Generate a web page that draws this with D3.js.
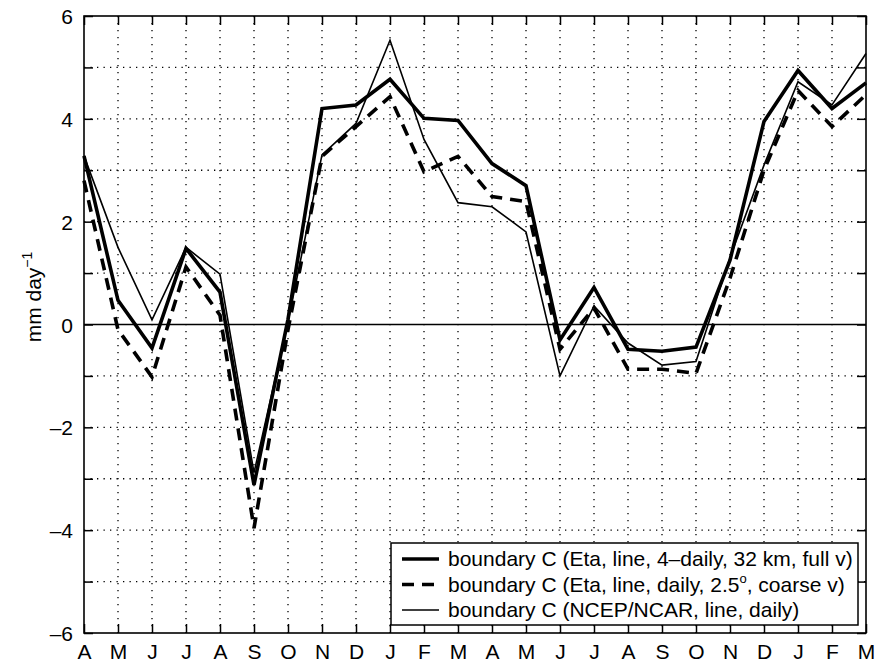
<!DOCTYPE html>
<html>
<head>
<meta charset="utf-8">
<script src="https://cdn.jsdelivr.net/npm/d3@7"></script>
<style>
  body { margin: 0; background: #fff; }
  text { font-family: "Liberation Sans", Arial, Helvetica, sans-serif; fill: #000; }
</style>
</head>
<body>
<script>
// month labels, Apr (year 1) .. Mar (year 3)
var months = ["A","M","J","J","A","S","O","N","D","J","F","M","A","M","J","J","A","S","O","N","D","J","F","M"];

// boundary C (Eta, line, 4-daily, 32 km, full v)
var etaFull = [3.28, 0.47, -0.46, 1.48, 0.63, -3.12, 0.1, 4.2, 4.27, 4.77, 4.01, 3.97, 3.13, 2.7,
               -0.3, 0.72, -0.48, -0.52, -0.44, 1.25, 3.95, 4.94, 4.2, 4.7];
// boundary C (Eta, line, daily, 2.5deg, coarse v)
var etaCoarse = [2.8, -0.1, -1.02, 1.12, 0.18, -3.96, -0.1, 3.27, 3.85, 4.43, 2.97, 3.27, 2.49, 2.39,
                 -0.48, 0.32, -0.87, -0.87, -0.95, 0.9, 3.0, 4.55, 3.85, 4.47];
// boundary C (NCEP/NCAR, line, daily)
var ncep = [3.28, 1.5, 0.09, 1.5, 0.98, -2.88, 0.05, 3.3, 3.91, 5.53, 3.6, 2.37, 2.29, 1.8,
            -1.0, 0.36, -0.36, -0.79, -0.72, 1.3, 3.1, 4.72, 4.27, 5.27];

var yTicks = d3.range(-6, 7, 1);
var yLabels = [-6, -4, -2, 0, 2, 4, 6];

var legendNames = [
  "boundary C (Eta, line, 4\u2013daily, 32 km, full v)",
  "boundary C (Eta, line, daily, 2.5",
  "boundary C (NCEP/NCAR, line, daily)"
];

(function() {
var W = 875, H = 660;
var pl = 84, pr = 866, pt = 16, pb = 633;

var svg = d3.select("body").append("svg")
    .attr("width", W)
    .attr("height", H);

var x = d3.scaleLinear().domain([0, months.length - 1]).range([pl, pr]);
var y = d3.scaleLinear().domain([-6, 6]).range([pb, pt]);

var idx = d3.range(months.length);

// dotted grid
svg.append("g").selectAll("line")
    .data(idx.slice(1, -1))
    .enter().append("line")
    .attr("x1", function(d) { return x(d); })
    .attr("x2", function(d) { return x(d); })
    .attr("y1", pt).attr("y2", pb)
    .attr("stroke", "#000").attr("stroke-width", 1.3)
    .attr("stroke-dasharray", "1.3,5.7");

svg.append("g").selectAll("line")
    .data(yTicks.filter(function(d) { return d > -6 && d < 6 && d != 0; }))
    .enter().append("line")
    .attr("x1", pl).attr("x2", pr)
    .attr("y1", function(d) { return y(d); })
    .attr("y2", function(d) { return y(d); })
    .attr("stroke", "#000").attr("stroke-width", 1.3)
    .attr("stroke-dasharray", "1.3,5.2");

// zero line
svg.append("line")
    .attr("x1", pl).attr("x2", pr)
    .attr("y1", y(0)).attr("y2", y(0))
    .attr("stroke", "#000").attr("stroke-width", 1.4);

// axes, ticks pointing inward on all four sides
var fmt = function(d) { return yLabels.indexOf(d) >= 0 ? String(d).replace("-", "\u2013") : ""; };

var yAxisL = svg.append("g").attr("transform", "translate(" + pl + ",0)")
    .call(d3.axisLeft(y).tickValues(yTicks).tickSizeInner(-9).tickSizeOuter(0).tickPadding(11).tickFormat(fmt));
var yAxisR = svg.append("g").attr("transform", "translate(" + pr + ",0)")
    .call(d3.axisRight(y).tickValues(yTicks).tickSizeInner(-9).tickSizeOuter(0).tickFormat(""));
var xAxisB = svg.append("g").attr("transform", "translate(0," + pb + ")")
    .call(d3.axisBottom(x).tickValues(idx).tickSizeInner(-9).tickSizeOuter(0).tickPadding(11)
      .tickFormat(function(d) { return months[d]; }));
var xAxisT = svg.append("g").attr("transform", "translate(0," + pt + ")")
    .call(d3.axisTop(x).tickValues(idx).tickSizeInner(-9).tickSizeOuter(0).tickFormat(""));

[yAxisL, yAxisR, xAxisB, xAxisT].forEach(function(a) {
  a.select(".domain").remove();
  a.selectAll(".tick line").attr("stroke", "#000").attr("stroke-width", 1.5);
});
yAxisL.selectAll("text").attr("font-size", "21px").attr("fill", "#000").attr("dy", "0.36em");
xAxisB.selectAll("text").attr("font-size", "21px").attr("fill", "#000");

// frame
svg.append("rect")
    .attr("x", pl).attr("y", pt)
    .attr("width", pr - pl).attr("height", pb - pt)
    .attr("fill", "none").attr("stroke", "#000").attr("stroke-width", 1.6);

// y label
svg.append("text")
    .attr("transform", "translate(41,297) rotate(-90)")
    .attr("text-anchor", "middle")
    .attr("font-size", "21px")
    .html("mm day<tspan dy='-9' font-size='14px'>\u22121</tspan>");

// series
var series = [
  { vals: etaFull, width: 3.6, dash: null },
  { vals: etaCoarse, width: 3.6, dash: "12,8" },
  { vals: ncep, width: 1.6, dash: null }
];

var line = d3.line()
    .x(function(d, i) { return x(i); })
    .y(function(d) { return y(d); });

svg.append("g").selectAll("path")
    .data(series.slice().reverse())
    .enter().append("path")
    .attr("d", function(s) { return line(s.vals); })
    .attr("fill", "none")
    .attr("stroke", "#000")
    .attr("stroke-width", function(s) { return s.width; })
    .attr("stroke-dasharray", function(s) { return s.dash; })
    .attr("stroke-linejoin", "miter");

// legend
var lg = svg.append("g");
lg.append("rect")
    .attr("x", 391).attr("y", 543)
    .attr("width", 467).attr("height", 82)
    .attr("fill", "#fff").attr("stroke", "#000").attr("stroke-width", 1.5);

var rowY = [559, 584.5, 610];
series.forEach(function(s, i) {
  lg.append("line")
    .attr("x1", 402).attr("x2", 439)
    .attr("y1", rowY[i]).attr("y2", rowY[i])
    .attr("stroke", "#000")
    .attr("stroke-width", s.width)
    .attr("stroke-dasharray", s.dash);
  var t = lg.append("text")
    .attr("x", 448).attr("y", rowY[i] + 7)
    .attr("font-size", "21px")
    .text(legendNames[i]);
  if (i == 1) {
    t.append("tspan").attr("dy", -9).attr("font-size", "13px").text("o");
    t.append("tspan").attr("dy", 9).text(", coarse v)");
  }
});
})();
</script>
</body>
</html>
